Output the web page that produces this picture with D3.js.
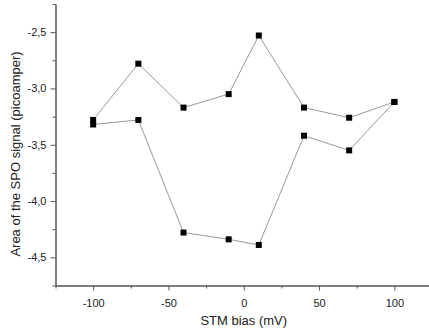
<!DOCTYPE html>
<html>
<head>
<meta charset="utf-8">
<script src="https://cdn.jsdelivr.net/npm/d3@7"></script>
<style>
  body { margin: 0; background: #fff; }
  text { font-family: "Liberation Sans", Arial, sans-serif; fill: #222; }
</style>
</head>
<body>
<svg id="chart" width="429" height="336"></svg>
<script>
// bias values (mV) and measured areas for the two sweeps
var bias = [-100, -70, -40, -10, 10, 40, 70, 100];
var upperSweep = [-3.28, -2.78, -3.17, -3.05, -2.53, -3.17, -3.26, -3.12];
var lowerSweep = [-3.32, -3.28, -4.28, -4.34, -4.39, -3.42, -3.55, -3.12];

var xTicks = [-100, -50, 0, 50, 100];
var xMinorTicks = [-125, -75, -25, 25, 75, 125];
var yTicks = [-2.5, -3.0, -3.5, -4.0, -4.5];
var yMinorTicks = [-2.25, -2.75, -3.25, -3.75, -4.25, -4.75];

var svg = d3.select("#chart");

var x = d3.scaleLinear().domain([-125, 123]).range([55.5, 429]);
var y = d3.scaleLinear().domain([-4.75, -2.25]).range([285.5, 4]);

var fmt = function (d) { return d3.format(".1f")(d).replace(".", ",").replace("−", "-"); };

var axisColor = "#555";

// minor ticks
svg.append("g")
  .attr("transform", "translate(0,285.5)")
  .call(d3.axisBottom(x).tickValues(xMinorTicks).tickSize(3).tickFormat(""))
  .call(function (g) { g.select(".domain").remove(); g.selectAll("line").attr("stroke", axisColor); });
svg.append("g")
  .attr("transform", "translate(55.5,0)")
  .call(d3.axisLeft(y).tickValues(yMinorTicks).tickSize(3).tickFormat(""))
  .call(function (g) { g.select(".domain").remove(); g.selectAll("line").attr("stroke", axisColor); });

// major axes
var xAxis = svg.append("g")
  .attr("transform", "translate(0,285.5)")
  .call(d3.axisBottom(x).tickValues(xTicks).tickSize(5).tickSizeOuter(0).tickPadding(9)
    .tickFormat(function (d) { return String(d); }));
var yAxis = svg.append("g")
  .attr("transform", "translate(55.5,0)")
  .call(d3.axisLeft(y).tickValues(yTicks).tickSize(5).tickSizeOuter(0).tickPadding(4)
    .tickFormat(fmt));

[xAxis, yAxis].forEach(function (g) {
  g.select(".domain").attr("stroke", axisColor).attr("stroke-width", 1.5);
  g.selectAll(".tick line").attr("stroke", axisColor);
  g.selectAll(".tick text").attr("fill", "#222").style("font-size", "11px")
    .style("font-family", "Liberation Sans, Arial, sans-serif");
});

// axis titles
svg.append("text")
  .attr("x", x(0))
  .attr("y", 325)
  .attr("text-anchor", "middle")
  .style("font-size", "13px")
  .text("STM bias (mV)");

svg.append("text")
  .attr("transform", "translate(20," + 154 + ") rotate(-90)")
  .attr("text-anchor", "middle")
  .style("font-size", "13px")
  .text("Area of the SPO signal (picoamper)");

// lines and markers
var line = d3.line()
  .x(function (d, i) { return x(bias[i]); })
  .y(function (d) { return y(d); });

[upperSweep, lowerSweep].forEach(function (s) {
  svg.append("path")
    .datum(s)
    .attr("d", line)
    .attr("fill", "none")
    .attr("stroke", "#999")
    .attr("stroke-width", 1);
});

[upperSweep, lowerSweep].forEach(function (s) {
  svg.append("g").selectAll("rect")
    .data(s)
    .enter().append("rect")
    .attr("x", function (d, i) { return x(bias[i]) - 3; })
    .attr("y", function (d) { return y(d) - 3; })
    .attr("width", 6)
    .attr("height", 6)
    .attr("fill", "#000");
});
</script>
</body>
</html>
